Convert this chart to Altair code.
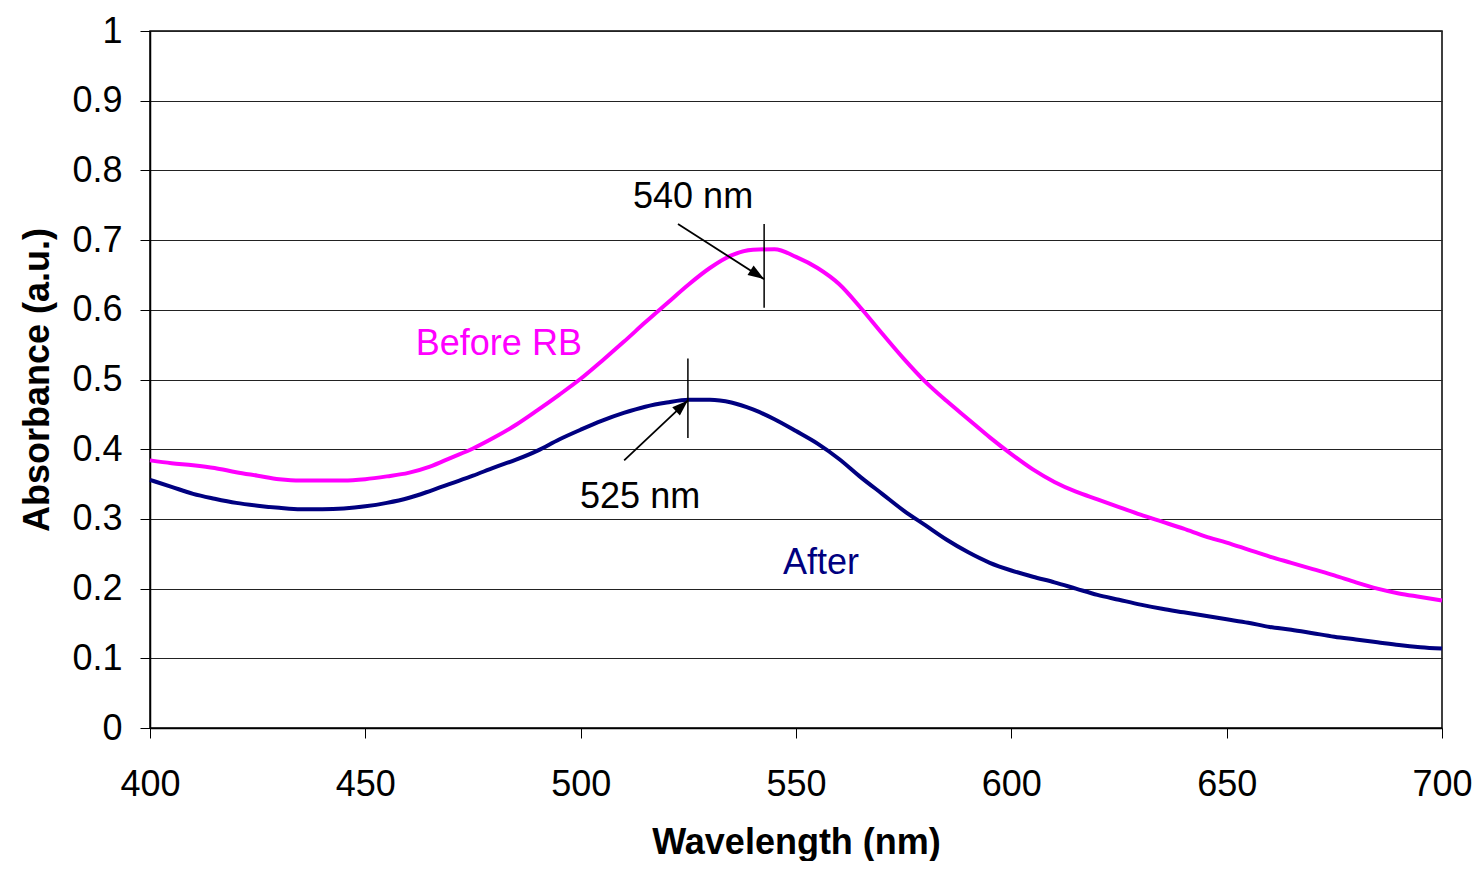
import altair as alt
import pandas as pd

# ---- data ----
wavelength = list(range(400, 705, 5))
before_rb = [0.384, 0.380, 0.377, 0.373, 0.367, 0.362, 0.357, 0.355, 0.355, 0.355,
             0.357, 0.361, 0.366, 0.375, 0.388, 0.401, 0.417, 0.435, 0.456, 0.478,
             0.501, 0.527, 0.554, 0.582, 0.609, 0.636, 0.660, 0.678, 0.686, 0.687,
             0.676, 0.660, 0.637, 0.603, 0.566, 0.530, 0.497, 0.469, 0.443, 0.417,
             0.393, 0.371, 0.353, 0.339, 0.328, 0.317, 0.306, 0.296, 0.286, 0.275,
             0.266, 0.256, 0.246, 0.237, 0.228, 0.219, 0.209, 0.200, 0.193, 0.188,
             0.183]
after = [0.356, 0.346, 0.336, 0.329, 0.323, 0.319, 0.316, 0.314, 0.314, 0.315,
         0.318, 0.323, 0.330, 0.340, 0.351, 0.362, 0.374, 0.385, 0.398, 0.414,
         0.428, 0.441, 0.452, 0.461, 0.467, 0.471, 0.471, 0.467, 0.457, 0.443,
         0.426, 0.408, 0.386, 0.360, 0.336, 0.312, 0.291, 0.270, 0.252, 0.237,
         0.226, 0.217, 0.209, 0.200, 0.191, 0.184, 0.177, 0.171, 0.166, 0.161,
         0.156, 0.151, 0.145, 0.141, 0.136, 0.131, 0.127, 0.123, 0.119, 0.116,
         0.114]

x_ticks = [400, 450, 500, 550, 600, 650, 700]
y_ticks = [0, 0.1, 0.2, 0.3, 0.4, 0.5, 0.6, 0.7, 0.8, 0.9, 1.0]

# peak markers: vertical bar (x, y_low, y_high)
peak_x = [542.6, 524.9]
peak_y_low = [0.603, 0.416]
peak_y_high = [0.723, 0.530]
# arrows: start -> tip
arrow_x0 = [522.6, 510.1]
arrow_y0 = [0.723, 0.384]
arrow_x1 = [542.6, 524.9]
arrow_y1 = [0.644, 0.470]
arrow_angle = [123, 47]
# text labels
label_text = ["540 nm", "525 nm", "Before RB", "After"]
label_x = [526.1, 513.8, 481.0, 555.8]
label_y = [0.746, 0.316, 0.535, 0.221]
label_color = ["#000000", "#000000", "#FF00FF", "#000080"]

FONT = "Liberation Sans"
FS = 36

df_before = pd.DataFrame({"wl": wavelength, "A": before_rb})
df_after = pd.DataFrame({"wl": wavelength, "A": after})
df_peak = pd.DataFrame({"x": peak_x, "y": peak_y_low, "y2": peak_y_high})
df_arrow = pd.DataFrame({"x": arrow_x0, "y": arrow_y0, "x2": arrow_x1,
                         "y2": arrow_y1, "angle": arrow_angle})
df_label = pd.DataFrame({"t": label_text, "x": label_x, "y": label_y, "c": label_color})

xscale = alt.Scale(domain=[400, 700], nice=False, zero=False)
yscale = alt.Scale(domain=[0, 1], nice=False)

x_axis = alt.Axis(values=x_ticks, format="d", tickSize=10, tickColor="black",
                  domainColor="black", domainWidth=1.5, labelFontSize=FS,
                  labelFont=FONT, labelColor="black", labelPadding=29, labelFlush=False,
                  grid=False, title="Wavelength (nm)", titleFont=FONT,
                  titleFontSize=FS, titleFontWeight="bold", titleColor="black",
                  titleY=125, titleBaseline="alphabetic")
y_axis = alt.Axis(values=y_ticks, format="~g", tickSize=10, tickColor="black",
                  domainColor="black", domainWidth=1.5, labelFontSize=FS,
                  labelFont=FONT, labelColor="black", labelPadding=18, labelFlush=False,
                  grid=True, gridColor="#222222", gridWidth=1,
                  title="Absorbance (a.u.)", titleFont=FONT, titleFontSize=FS,
                  titleFontWeight="bold", titleColor="black", titleAngle=270,
                  titleX=-102, titleY=348.5, titleAlign="center",
                  titleBaseline="alphabetic")

base_x = alt.X("wl:Q", scale=xscale, axis=x_axis)
base_y = alt.Y("A:Q", scale=yscale, axis=y_axis)

line_before = alt.Chart(df_before).mark_line(
    color="#FF00FF", strokeWidth=4, interpolate="monotone").encode(x=base_x, y=base_y)
line_after = alt.Chart(df_after).mark_line(
    color="#000080", strokeWidth=4, interpolate="monotone").encode(
    x=alt.X("wl:Q", scale=xscale), y=alt.Y("A:Q", scale=yscale))

peaks = alt.Chart(df_peak).mark_rule(color="black", strokeWidth=1.5).encode(
    x=alt.X("x:Q", scale=xscale), y=alt.Y("y:Q", scale=yscale), y2="y2:Q")
shafts = alt.Chart(df_arrow).mark_rule(color="black", strokeWidth=1.8).encode(
    x=alt.X("x:Q", scale=xscale), y=alt.Y("y:Q", scale=yscale), x2="x2:Q", y2="y2:Q")
heads = alt.Chart(df_arrow).mark_point(
    shape="M0,0 L-0.45,1.3 L0.45,1.3 Z", filled=True, color="black", opacity=1,
    size=620).encode(
    x=alt.X("x2:Q", scale=xscale), y=alt.Y("y2:Q", scale=yscale),
    angle=alt.Angle("angle:Q", scale=None))
labels = alt.Chart(df_label).mark_text(font=FONT, fontSize=FS, align="center",
                                       baseline="alphabetic").encode(
    x=alt.X("x:Q", scale=xscale), y=alt.Y("y:Q", scale=yscale), text="t:N",
    color=alt.Color("c:N", scale=None))

chart = alt.layer(line_before, line_after, peaks, shafts, heads, labels).properties(
    width=1292, height=697,
    autosize=alt.AutoSizeParams(type="none"),
    padding={"left": 142, "top": 23, "right": 32, "bottom": 133},
    background="white",
).configure_view(stroke="black", strokeWidth=1.5)

chart.save("out.html", embed_options={"renderer": "svg", "actions": False})
